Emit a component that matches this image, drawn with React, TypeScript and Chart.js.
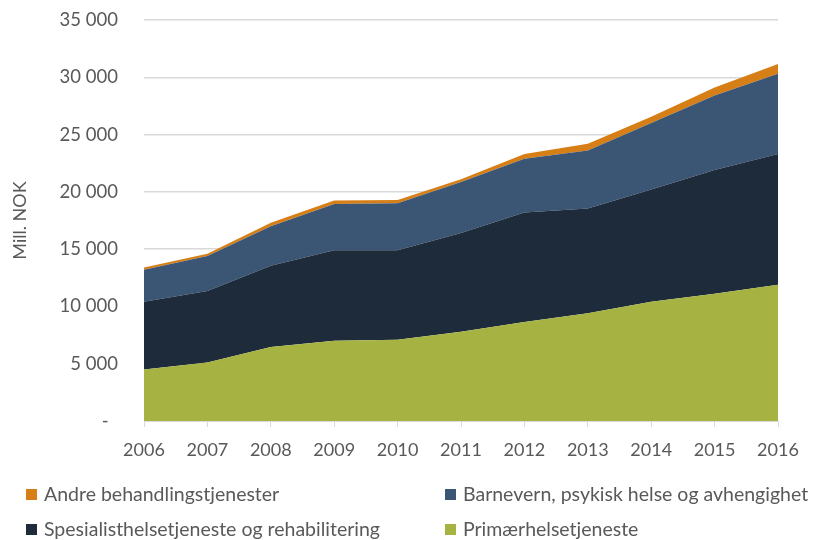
import React, { useEffect, useRef } from "react";
import { Chart, registerables } from "chart.js";

Chart.register(...registerables);

const years = ["2006", "2007", "2008", "2009", "2010", "2011", "2012", "2013", "2014", "2015", "2016"];
const primaer = [4500, 5100, 6450, 7000, 7100, 7800, 8650, 9400, 10400, 11100, 11900];
const spesialist = [5900, 6250, 7100, 7900, 7800, 8600, 9550, 9150, 9800, 10800, 11400];
const barnevern = [2800, 3050, 3450, 4050, 4100, 4450, 4700, 5050, 5800, 6500, 7000];
const andre = [200, 200, 300, 300, 300, 250, 400, 600, 550, 700, 850];

const labelAndre = "Andre behandlingstjenester";
const labelBarnevern = "Barnevern, psykisk helse og avhengighet";
const labelSpesialist = "Spesialisthelsetjeneste og rehabilitering";
const labelPrimaer = "Primærhelsetjeneste";

const cOrange = "#D77F17";
const cBlue = "#3A5674";
const cDark = "#1E2B3A";
const cGreen = "#A6B342";
const textColor = "#595959";
const gridColor = "#D9D9D9";
const FONT = "Lato, 'Open Sans', sans-serif";

function fmt(v: number): string {
  if (v === 0) return "-  ";
  const s = Math.round(v).toString();
  return s.replace(/\B(?=(\d{3})+(?!\d))/g, " ");
}

export default function App() {
  const ref = useRef<HTMLCanvasElement | null>(null);
  useEffect(() => {
    if (!ref.current) return;
    const chart = new Chart(ref.current, {
      type: "line",
      data: {
        labels: years,
        datasets: [
          { label: labelPrimaer, data: primaer, backgroundColor: cGreen, borderWidth: 0, fill: "origin", pointRadius: 0 },
          { label: labelSpesialist, data: spesialist, backgroundColor: cDark, borderWidth: 0, fill: "-1", pointRadius: 0 },
          { label: labelBarnevern, data: barnevern, backgroundColor: cBlue, borderWidth: 0, fill: "-1", pointRadius: 0 },
          { label: labelAndre, data: andre, backgroundColor: cOrange, borderWidth: 0, fill: "-1", pointRadius: 0 },
        ],
      },
      options: {
        animation: false,
        responsive: false,
        maintainAspectRatio: false,
        layout: { padding: { left: 0, right: 37, top: 20, bottom: 79 } },
        plugins: { legend: { display: false }, tooltip: { enabled: false } },
        elements: { line: { tension: 0 } },
        scales: {
          x: {
            offset: false,
            grid: { display: true, drawOnChartArea: false, color: gridColor, tickLength: 6 },
            border: { color: gridColor },
            ticks: { color: textColor, font: { family: FONT, size: 18 }, padding: 12, maxRotation: 0 },
            afterFit: (s: any) => { s.height = 40; },
          },
          y: {
            stacked: true,
            min: 0,
            max: 35000,
            grid: { color: gridColor, drawTicks: true, tickLength: 26, tickColor: "rgba(0,0,0,0)", lineWidth: 1.5 },
            border: { display: false },
            ticks: {
              stepSize: 5000,
              color: textColor,
              font: { family: FONT, size: 18.5 },
              padding: 0,
              callback: (v: any) => fmt(Number(v)),
            },
            title: { display: true, text: "Mill. NOK", color: textColor, font: { family: FONT, size: 18 }, padding: { top: 9, bottom: 0 } },
            afterFit: (s: any) => { s.width = 144; },
          },
        },
      },
    });
    return () => chart.destroy();
  }, []);

  const legendItem = (color: string, text: string, left: number, top: number) => (
    <div style={{ position: "absolute", left, top, display: "flex", alignItems: "center", whiteSpace: "nowrap" }}>
      <span style={{ display: "inline-block", width: 11, height: 11, background: color, marginRight: 7 }} />
      <span style={{ fontFamily: FONT, fontSize: 19.5, color: textColor, lineHeight: "24px" }}>{text}</span>
    </div>
  );

  return (
    <div style={{ position: "fixed", left: 0, top: 0, width: 815, height: 540, background: "#fff", overflow: "hidden" }}>
      <canvas ref={ref} width={815} height={540} style={{ position: "absolute", left: 0, top: 0 }} />
      {legendItem(cOrange, labelAndre, 26, 482)}
      {legendItem(cBlue, labelBarnevern, 445, 482)}
      {legendItem(cDark, labelSpesialist, 26, 517)}
      {legendItem(cGreen, labelPrimaer, 445, 517)}
    </div>
  );
}
